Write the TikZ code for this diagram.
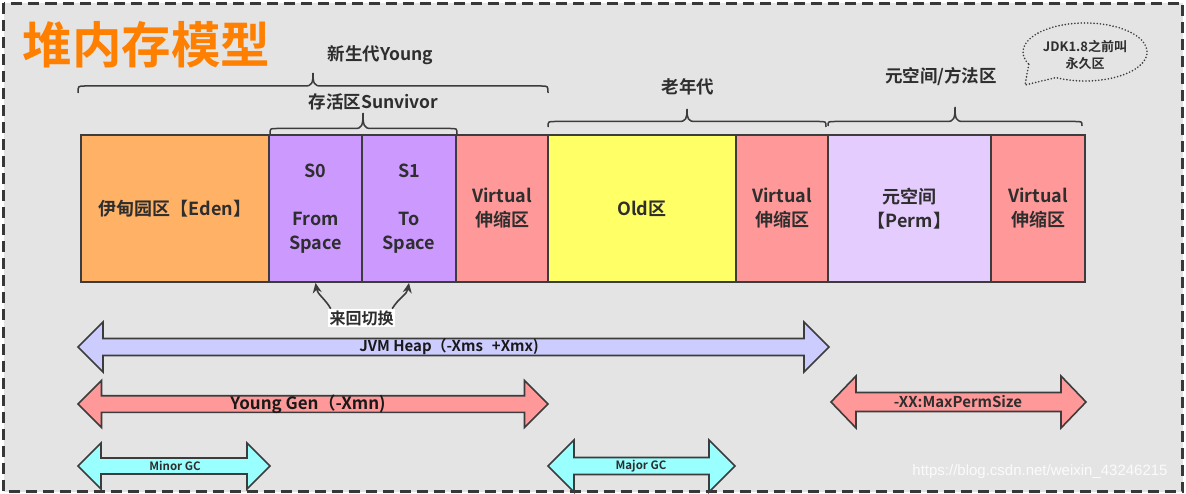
\documentclass[tikz,border=0pt]{standalone}
\usepackage{fontspec}
\setmainfont{Noto Sans CJK SC}[BoldFont={* Bold}]
\newfontfamily\wmfont{Liberation Sans}
\usetikzlibrary{arrows.meta}
\definecolor{bggray}{HTML}{E4E4E4}
\definecolor{framec}{HTML}{383838}
\definecolor{linec}{HTML}{3C3C3C}
\definecolor{txt}{HTML}{2E2E2E}
\definecolor{titleor}{HTML}{FF7F00}
\definecolor{edenc}{HTML}{FFB266}
\definecolor{survc}{HTML}{CC99FF}
\definecolor{virtc}{HTML}{FF9999}
\definecolor{oldc}{HTML}{FFFF66}
\definecolor{permc}{HTML}{E5CCFF}
\definecolor{heapc}{HTML}{CCCCFF}
\definecolor{gcc}{HTML}{99FFFF}
\newcommand{\fsz}[2]{\fontsize{#1}{#2}\selectfont}
\newcommand{\cbrace}[6]{%
  \draw[bracestyle] (#1,#4) .. controls (#1,#5) .. (#1+7,#5) -- (#3-8,#5)
    .. controls (#3-1,#5) and (#3,#5-3) .. (#3,#6)
    .. controls (#3,#5-3) and (#3+1,#5) .. (#3+8,#5) -- (#2-7,#5)
    .. controls (#2,#5) .. (#2,#4);}
\newcommand{\dblarr}[7]{%
  \draw[arrline, fill=#7] (#1,#3) -- (#1+#6,#3-#5) -- (#1+#6,#3-#4) -- (#2-#6,#3-#4)
    -- (#2-#6,#3-#5) -- (#2,#3) -- (#2-#6,#3+#5) -- (#2-#6,#3+#4)
    -- (#1+#6,#3+#4) -- (#1+#6,#3+#5) -- cycle;}
\begin{document}
\begin{tikzpicture}[x=1pt,y=-1pt,
  box/.style={draw=linec, line width=1.8pt, minimum height=147pt, inner sep=0pt,
    text=txt, align=center, font=\bfseries\fsz{18}{24}},
  bracestyle/.style={draw=linec, line width=1.5pt},
  arrline/.style={draw=linec, line width=1.6pt, line join=miter},
  lbl/.style={text=txt, font=\bfseries\fsz{17.5}{20}, inner sep=0pt},
  swarr/.style={draw=linec, line width=1.6pt, -{Stealth[length=10pt,width=9pt]}}]
\useasboundingbox (0,0) rectangle (1186,494);
\fill[white] (0,0) rectangle (1186,494);
\draw[draw=framec, fill=bggray, line width=2.6pt, dash pattern=on 11pt off 6pt]
  (3.5,3.5) rectangle (1182.5,491.5);

% title
\node[text=titleor, font=\bfseries\fsz{49.5}{55}, inner sep=0pt] (title) at (146.5,45) {堆内存模型};

% boxes
\node[box, fill=edenc, minimum width=188pt] (eden) at (175,208.5) {伊甸园区【Eden】};
\node[box, fill=survc, minimum width=93pt] (s0) at (315.5,208.5) {S0\\[24pt]From\\Space};
\node[box, fill=survc, minimum width=94pt] (s1) at (409,208.5) {S1\\[24pt]To\\Space};
\node[box, fill=virtc, minimum width=92pt] (v1) at (502,208.5) {Virtual\\伸缩区};
\node[box, fill=oldc, minimum width=188pt] (old) at (642,208.5) {Old区};
\node[box, fill=virtc, minimum width=92pt] (v2) at (782,208.5) {Virtual\\伸缩区};
\node[box, fill=permc, minimum width=163pt] (perm) at (909.5,208.5) {元空间\\【Perm】};
\node[box, fill=virtc, minimum width=94pt] (v3) at (1038,208.5) {Virtual\\伸缩区};

% braces and labels
\cbrace{78}{548}{313}{93}{86}{73}
\cbrace{270}{457}{363}{134}{128.5}{113}
\cbrace{548}{826}{687}{127}{121.5}{109}
\cbrace{828}{1082}{955}{126}{121.5}{107}
\node[lbl] (young) at (380.5,55) {新生代Young};
\node[lbl] (surv) at (373.5,102) {存活区Sunvivor};
\node[lbl] (oldlbl) at (688,87) {老年代};
\node[lbl] (meta) at (941,77) {元空间/方法区};

% callout
\draw[draw=linec, line width=1.8pt, dash pattern=on 0pt off 3.2pt, line cap=round]
  (1028.8,64.3) -- (1025,85) -- (1055.9,77.6)
  arc[start angle=118, end angle=-205, x radius=62, y radius=29];
\node[text=txt, font=\bfseries\fsz{13}{17}, align=center, inner sep=0pt] (callout) at (1085,54.5) {JDK1.8之前叫\\永久区};

% swap label and arrows
\node[fill=white, text=txt, font=\bfseries\fsz{16}{18}, inner sep=1.5pt] (sw) at (361.5,318) {来回切换};
\draw[swarr] ([xshift=3pt]sw.north west) to[out=120,in=-80] (s0.south);
\draw[swarr] ([xshift=-3pt]sw.north east) to[out=60,in=-100] (s1.south);

% double arrows
\dblarr{78}{829}{347}{8.5}{25}{25}{heapc}
\dblarr{78}{548}{404}{8.3}{23.5}{23.5}{virtc}
\dblarr{78}{270}{466}{8}{23}{23}{gcc}
\dblarr{548}{735}{466}{8.5}{26}{26}{gcc}
\dblarr{831}{1086}{402}{9.5}{26}{25}{virtc}
\node[text=black!90, font=\bfseries\fsz{15}{17}, inner sep=0pt] (heap) at (449,347) {JVM Heap（-Xms\hspace{0.6em}+Xmx)};
\node[text=black!90, font=\bfseries\fsz{17}{19}, inner sep=0pt] (yg) at (308,404) {Young Gen（-Xmn)};
\node[text=txt, font=\bfseries\fsz{11.5}{13}, inner sep=0pt] (minor) at (175,466) {Minor GC};
\node[text=txt, font=\bfseries\fsz{11.5}{13}, inner sep=0pt] (major) at (641,466) {Major GC};
\node[text=txt, font=\bfseries\fsz{15}{17}, inner sep=0pt] (maxperm) at (958,402) {-XX:MaxPermSize};

% watermark
\node[text=white, opacity=0.85, font=\wmfont\fsz{15}{17}, inner sep=0pt] (wm) at (1040,472) {https://blog.csdn.net/weixin\_43246215};
\end{tikzpicture}
\end{document}
